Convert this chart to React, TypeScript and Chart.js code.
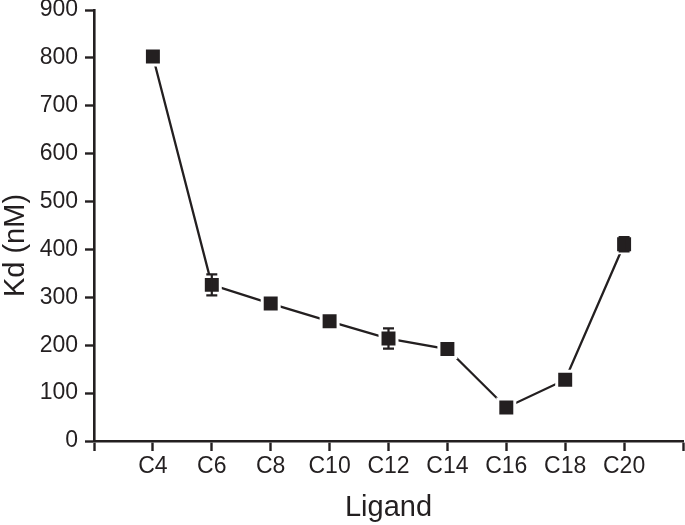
import React, { useEffect, useRef } from "react";
import { Chart, registerables } from "chart.js";

Chart.register(...registerables);

// ---- data ----
const categories = ["C4", "C6", "C8", "C10", "C12", "C14", "C16", "C18", "C20"];
const kdValues = [803, 326, 287, 250, 214, 192, 70, 128, 411];
const kdErrors = [0, 22, 0, 0, 21, 0, 0, 0, 15];
const yTickValues = [0, 100, 200, 300, 400, 500, 600, 700, 800, 900];
const xTitle = "Ligand";
const yTitle = "Kd (nM)";

const INK = "#231f20";
const FONT = "'Liberation Sans', Arial, Helvetica, sans-serif";

const errorBarPlugin = {
  id: "errorBars",
  afterDatasetsDraw(chart: any) {
    const { ctx, scales } = chart;
    const x = scales.x;
    const y = scales.y;
    ctx.save();
    ctx.strokeStyle = INK;
    ctx.lineWidth = 2.2;
    kdValues.forEach((v, i) => {
      const e = kdErrors[i];
      if (!e) return;
      const px = x.getPixelForValue(i + 1);
      const top = y.getPixelForValue(v + e);
      const bot = y.getPixelForValue(v - e);
      ctx.beginPath();
      ctx.moveTo(px, top);
      ctx.lineTo(px, bot);
      ctx.moveTo(px - 5.5, top);
      ctx.lineTo(px + 5.5, top);
      ctx.moveTo(px - 5.5, bot);
      ctx.lineTo(px + 5.5, bot);
      ctx.stroke();
    });
    ctx.restore();
  },
};

const yTitlePlugin = {
  id: "yTitle",
  afterDraw(chart: any) {
    const { ctx, chartArea } = chart;
    ctx.save();
    ctx.translate(16, (chartArea.top + chartArea.bottom) / 2 + 20);
    ctx.rotate(-Math.PI / 2);
    ctx.font = `29px ${FONT}`;
    ctx.textAlign = "center";
    ctx.textBaseline = "middle";
    ctx.fillStyle = INK;
    ctx.fillText(yTitle, 0, 0);
    ctx.restore();
  },
};

export default function App() {
  const canvasRef = useRef<HTMLCanvasElement | null>(null);

  useEffect(() => {
    const canvas = canvasRef.current;
    if (!canvas) return;
    const chart = new Chart(canvas, {
      type: "line",
      data: {
        datasets: [
          {
            data: kdValues.map((v, i) => ({ x: i + 1, y: v })),
            borderColor: INK,
            borderWidth: 2.3,
            backgroundColor: INK,
            pointStyle: "rect",
            pointRadius: 12,
            pointHoverRadius: 12,
            pointBackgroundColor: INK,
            pointBorderColor: "#ffffff",
            pointBorderWidth: 3,
            tension: 0,
            fill: false,
            clip: false,
          },
        ],
      },
      options: {
        animation: false,
        responsive: false,
        events: [],
        layout: { autoPadding: false, padding: { top: 10, right: 2, left: 0, bottom: 0 } },
        plugins: {
          legend: { display: false },
          tooltip: { enabled: false },
        },
        scales: {
          x: {
            type: "linear",
            min: 0,
            max: 10,
            afterBuildTicks: (s: any) => {
              s.ticks = [0, ...categories.map((_, i) => i + 1), categories.length + 1].map((v) => ({ value: v }));
            },
            afterFit: (s: any) => {
              s.height = 84;
              s.paddingLeft = 0;
              s.paddingRight = 0;
            },
            border: { display: true, color: INK, width: 2.6 },
            grid: {
              display: true,
              drawOnChartArea: false,
              drawTicks: true,
              tickLength: 10,
              tickWidth: 2.4,
              tickColor: INK,
            },
            ticks: {
              autoSkip: false,
              maxRotation: 0,
              padding: 2,
              color: INK,
              font: { family: FONT, size: 23 },
              callback: (value: any) => categories[Number(value) - 1] ?? "",
            },
            title: {
              display: true,
              text: xTitle,
              color: INK,
              font: { family: FONT, size: 29 },
              padding: { top: 0, bottom: 0 },
            },
          },
          y: {
            type: "linear",
            min: 0,
            max: 900,
            afterBuildTicks: (s: any) => {
              s.ticks = yTickValues.map((v) => ({ value: v }));
            },
            afterFit: (s: any) => {
              s.width = 94;
              s.paddingTop = 0;
              s.paddingBottom = 0;
            },
            border: { display: true, color: INK, width: 2.6 },
            grid: {
              display: true,
              drawOnChartArea: false,
              drawTicks: true,
              tickLength: 9,
              tickWidth: 2.4,
              tickColor: INK,
            },
            ticks: {
              padding: 7,
              color: INK,
              font: { family: FONT, size: 23 },
            },
            title: { display: false },
          },
        },
      },
      plugins: [errorBarPlugin, yTitlePlugin],
    } as any);
    return () => chart.destroy();
  }, []);

  return (
    <div style={{ position: "fixed", left: 0, top: 0, width: 685, height: 525, background: "#fff" }}>
      <canvas ref={canvasRef} width={685} height={525} style={{ display: "block", width: 685, height: 525 }} />
    </div>
  );
}
